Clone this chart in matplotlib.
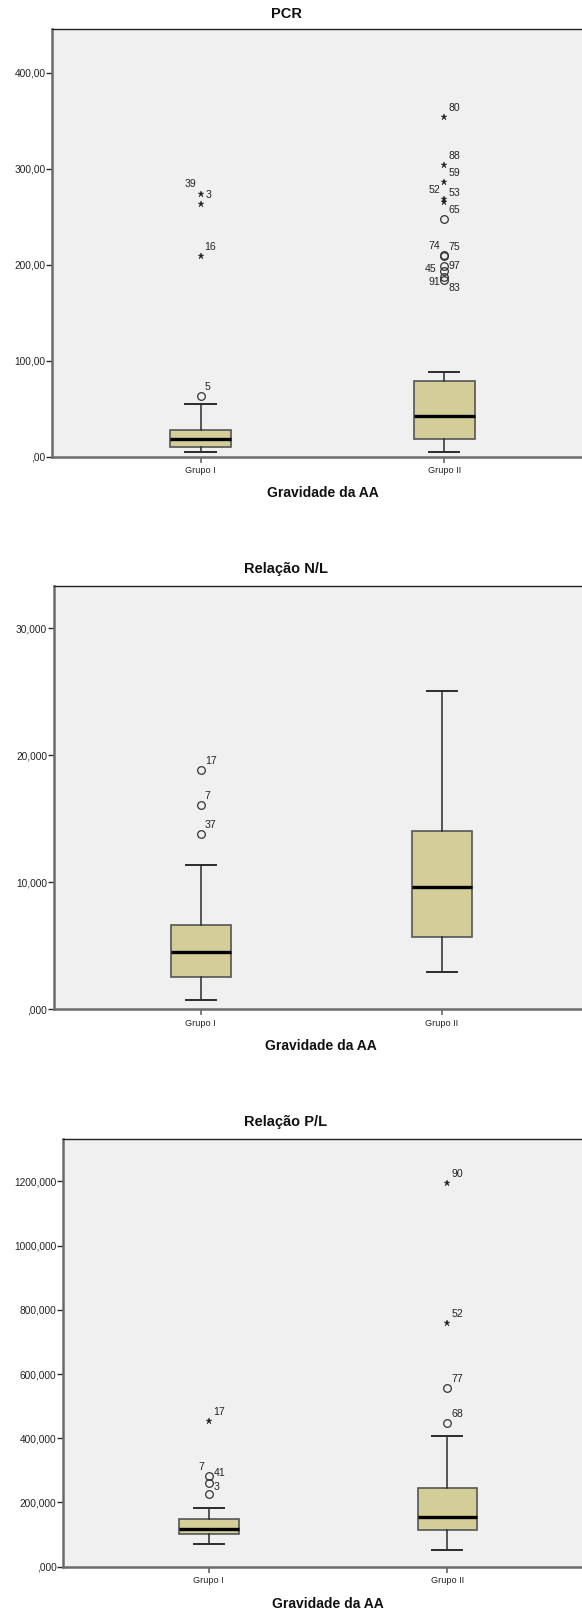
import matplotlib
matplotlib.use("Agg")
import matplotlib.pyplot as plt
from matplotlib.ticker import FuncFormatter

plt.rcParams['font.family'] = ['Liberation Sans', 'DejaVu Sans']

# ---------------- data ----------------
groups = ["Grupo I", "Grupo II"]

# PCR
pcr_whislo = [4.5, 4.5]
pcr_q1 = [9.7, 18.0]
pcr_med = [18.0, 42.0]
pcr_q3 = [28.0, 78.8]
pcr_whishi = [54.5, 88.2]
pcr_circles_ids = [[5], [65, 74, 75, 97, 45, 91, 83]]
pcr_circles_vals = [[62.8], [247.3, 210.5, 209.5, 198.6, 193.0, 187.0, 184.0]]
pcr_stars_ids = [[39, 3, 16], [80, 88, 59, 52, 53]]
pcr_stars_vals = [[273.6, 263.0, 209.4], [353.5, 303.5, 286.1, 268.0, 265.3]]
pcr_yticks = [0, 100, 200, 300, 400]

# Relação N/L
nl_whislo = [0.73, 2.97]
nl_q1 = [2.55, 5.70]
nl_med = [4.49, 9.61]
nl_q3 = [6.61, 14.02]
nl_whishi = [11.39, 25.07]
nl_circles_ids = [[17, 7, 37], []]
nl_circles_vals = [[18.85, 16.06, 13.83], []]
nl_stars_ids = [[], []]
nl_stars_vals = [[], []]
nl_yticks = [0, 10, 20, 30]

# Relação P/L
pl_whislo = [70.6, 51.9]
pl_q1 = [101.7, 115.2]
pl_med = [116.3, 153.6]
pl_q3 = [149.5, 246.0]
pl_whishi = [182.7, 408.0]
pl_circles_ids = [[7, 41, 3], [68, 77]]
pl_circles_vals = [[282.3, 259.7, 225.4], [446.4, 555.4]]
pl_stars_ids = [[17], [52, 90]]
pl_stars_vals = [[454.7], [759.9, 1193.8]]
pl_yticks = [0, 200, 400, 600, 800, 1000, 1200]

titles = ["PCR", "Relação N/L", "Relação P/L"]
xlabel = "Gravidade da AA"

# ---------------- style / layout ----------------
W, H = 582, 1614
BG = "#F0F0F0"
BOX = "#D3CE97"
DARK = "#2b2b2b"

# label placement (pixels offset, alignment) for crowded outliers
label_style = {
    (0, 39): (-4, 10, 'right'), (0, 3): (5, 9, 'left'),
    (0, 52): (-4, 9, 'right'), (0, 74): (-4, 9, 'right'),
    (0, 45): (-8, 2, 'right'), (0, 91): (-4, -5, 'right'),
    (0, 97): (4, 0, 'left'), (0, 83): (4, -8, 'left'),
    (2, 7): (-4, 9, 'right'), (2, 41): (5, 10, 'left'), (2, 3): (5, 7, 'left'),
}

panels = [
    dict(box=(52, 29.3, 456.7, 592.8), ylim=445.2, dec=2, title_y=14, xlab_y=493.3,
         whislo=pcr_whislo, q1=pcr_q1, med=pcr_med, q3=pcr_q3, whishi=pcr_whishi,
         cid=pcr_circles_ids, cv=pcr_circles_vals, sid=pcr_stars_ids, sv=pcr_stars_vals,
         yticks=pcr_yticks),
    dict(box=(53.8, 586, 1009.3, 588.6), ylim=33.33, dec=3, title_y=569.3, xlab_y=1046,
         whislo=nl_whislo, q1=nl_q1, med=nl_med, q3=nl_q3, whishi=nl_whishi,
         cid=nl_circles_ids, cv=nl_circles_vals, sid=nl_stars_ids, sv=nl_stars_vals,
         yticks=nl_yticks),
    dict(box=(63.1, 1138.7, 1566.7, 593), ylim=1333, dec=3, title_y=1121.7, xlab_y=1604,
         whislo=pl_whislo, q1=pl_q1, med=pl_med, q3=pl_q3, whishi=pl_whishi,
         cid=pl_circles_ids, cv=pl_circles_vals, sid=pl_stars_ids, sv=pl_stars_vals,
         yticks=pl_yticks),
]


def fmt_factory(dec):
    def f(v, pos):
        s = f"{v:.{dec}f}"
        if s.startswith("0"):
            s = s[1:]
        return s.replace(".", ",")
    return f


fig = plt.figure(figsize=(W / 100, H / 100), dpi=100)

for pi, p in enumerate(panels):
    left, top, bottom, right = p['box']
    ax = fig.add_axes([left / W, 1 - bottom / H, (right - left) / W, (bottom - top) / H])
    ax.set_facecolor(BG)
    positions = [1, 2]
    stats = []
    for i, g in enumerate(groups):
        stats.append(dict(label=g, whislo=p['whislo'][i], q1=p['q1'][i], med=p['med'][i],
                          q3=p['q3'][i], whishi=p['whishi'][i], fliers=[]))
    ax.bxp(stats, positions=positions, widths=0.25, capwidths=0.125, patch_artist=True,
           showfliers=False,
           boxprops=dict(facecolor=BOX, edgecolor="#555555", linewidth=1.2),
           medianprops=dict(color="black", linewidth=2.4),
           whiskerprops=dict(color=DARK, linewidth=1.1),
           capprops=dict(color=DARK, linewidth=1.4))

    for i in range(2):
        xs = positions[i]
        for oid, val in zip(p['cid'][i], p['cv'][i]):
            ax.plot([xs], [val], marker='o', mfc='none', mec="#333333", ms=5.5, mew=0.9,
                    linestyle='none', zorder=4)
            dx, dy, ha = label_style.get((pi, oid), (4, 9, 'left'))
            ax.annotate(str(oid), (xs, val), xytext=(dx, dy), textcoords='offset pixels',
                        ha=ha, va='center', fontsize=7.6, color="#222222")
        for oid, val in zip(p['sid'][i], p['sv'][i]):
            ax.plot([xs], [val], marker='*', color="#222222", ms=5, mew=0.3,
                    linestyle='none', zorder=4)
            dx, dy, ha = label_style.get((pi, oid), (4, 9, 'left'))
            ax.annotate(str(oid), (xs, val), xytext=(dx, dy), textcoords='offset pixels',
                        ha=ha, va='center', fontsize=7.6, color="#222222")

    ax.set_xlim(0.39, 2.61)
    ax.set_ylim(0, p['ylim'])
    ax.set_xticks(positions)
    ax.set_xticklabels(groups)
    ax.set_yticks(p['yticks'])
    ax.yaxis.set_major_formatter(FuncFormatter(fmt_factory(p['dec'])))
    ax.tick_params(axis='y', direction='out', length=4.3, width=1, color=DARK, pad=0.5,
                   labelsize=7.3, labelcolor="#222222")
    ax.tick_params(axis='x', direction='out', length=4, width=1.2, color="#666666", pad=3,
                   labelsize=6.6, labelcolor="#222222")
    for s in ['left', 'bottom']:
        ax.spines[s].set_color("#6b6b6b")
        ax.spines[s].set_linewidth(1.8)
    ax.spines['top'].set_color("#222222")
    ax.spines['top'].set_linewidth(1.0)
    ax.spines['right'].set_visible(False)

    fig.text(286 / W, 1 - p['title_y'] / H, titles[pi], ha='center', va='center',
             fontsize=10.5, fontweight='bold', color="#111111")
    fig.text(((left + right) / 2) / W, 1 - p['xlab_y'] / H, xlabel, ha='center', va='center',
             fontsize=10, fontweight='bold', color="#111111")

fig.savefig("out.png", dpi=100)
